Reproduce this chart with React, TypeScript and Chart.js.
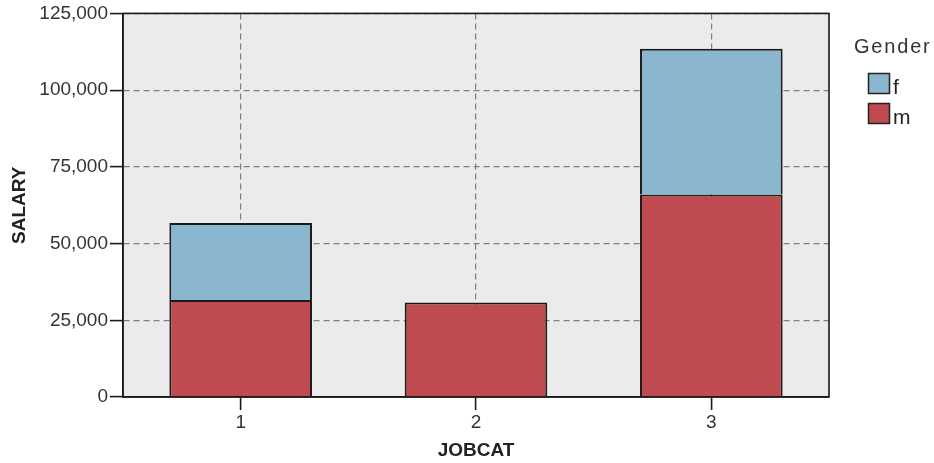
import React, { useEffect, useRef } from "react";
import { Chart, registerables } from "chart.js";

Chart.register(...registerables);

const categories = ["1", "2", "3"];
const maleSalary = [31600, 30800, 66000];
const femaleSalary = [25100, null, 47500];
const yTicks = [0, 25000, 50000, 75000, 100000, 125000];
const legendTitle = "Gender";

const FONT = "'Liberation Sans', Arial, sans-serif";
const RED = "#BF4A4F";
const BLUE = "#8AB7CF";
const GRID = "#7f7f7f";

const framePlugin = {
  id: "frame",
  beforeDraw(chart: any) {
    const { ctx, chartArea: a } = chart;
    ctx.save();
    ctx.fillStyle = "#EBEBEB";
    ctx.fillRect(a.left, a.top, a.right - a.left, a.bottom - a.top);
    ctx.restore();
  },
  afterDraw(chart: any) {
    const { ctx, chartArea: a } = chart;
    ctx.save();
    ctx.strokeStyle = "#1a1a1a";
    ctx.lineWidth = 1.6;
    ctx.strokeRect(a.left, a.top, a.right - a.left, a.bottom - a.top);
    // legend
    ctx.fillStyle = "#333";
    ctx.font = `20px ${FONT}`;
    (ctx as any).letterSpacing = "1.8px";
    ctx.textBaseline = "middle";
    ctx.textAlign = "left";
    ctx.fillText(legendTitle, 854, 47.5);
    (ctx as any).letterSpacing = "0px";
    const items = [
      { label: chart.data.datasets[1].label, color: chart.data.datasets[1].backgroundColor, y: 73.5, base: 94 },
      { label: chart.data.datasets[0].label, color: chart.data.datasets[0].backgroundColor, y: 103.5, base: 124 },
    ];
    ctx.font = `21px ${FONT}`;
    ctx.textBaseline = "alphabetic";
    for (const it of items) {
      ctx.fillStyle = it.color;
      ctx.fillRect(868.5, it.y, 21, 20);
      ctx.strokeStyle = "#222";
      ctx.lineWidth = 1.5;
      ctx.strokeRect(868.5, it.y, 21, 20);
      ctx.fillStyle = "#222";
      ctx.fillText(it.label, 893, it.base);
    }
    ctx.restore();
  },
};

export default function App() {
  const ref = useRef<HTMLCanvasElement | null>(null);
  useEffect(() => {
    if (!ref.current) return;
    const chart = new Chart(ref.current, {
      type: "bar",
      data: {
        labels: categories,
        datasets: [
          {
            label: "m",
            data: maleSalary,
            backgroundColor: RED,
            borderColor: "#1a1a1a",
            borderWidth: 2,
            barPercentage: 0.606,
            categoryPercentage: 1,
          },
          {
            label: "f",
            data: femaleSalary as any,
            backgroundColor: BLUE,
            borderColor: "#1a1a1a",
            borderWidth: 2,
            barPercentage: 0.606,
            categoryPercentage: 1,
          },
        ],
      },
      options: {
        animation: false,
        responsive: false,
        layout: { padding: { top: 12, right: 105, left: 0, bottom: 0 } },
        plugins: { legend: { display: false }, tooltip: { enabled: false } },
        scales: {
          x: {
            stacked: true,
            afterFit: (s: any) => {
              s.height = 66;
            },
            grid: {
              offset: false,
              color: GRID,
              lineWidth: 1.2,
              tickLength: 13,
              tickColor: "#1a1a1a",
              tickWidth: 1.6,
              tickBorderDash: [],
            },
            border: { display: true, color: "#1a1a1a", width: 1.6, dash: [6, 4] },
            ticks: {
              color: "#333",
              padding: 1,
              font: { family: FONT, size: 19 },
            },
            title: {
              display: true,
              text: "JOBCAT",
              color: "#222",
              font: { family: FONT, size: 19, weight: "bold" },
              padding: { top: 0, bottom: 1 },
            },
          },
          y: {
            stacked: true,
            min: 0,
            max: 125000,
            afterFit: (s: any) => {
              s.width = 123;
            },
            afterBuildTicks: (s: any) => {
              s.ticks = yTicks.map((v) => ({ value: v }));
            },
            grid: {
              color: GRID,
              lineWidth: 1.2,
              tickLength: 13,
              tickColor: "#1a1a1a",
              tickWidth: 1.6,
              tickBorderDash: [],
            },
            border: { display: true, color: "#1a1a1a", width: 1.6, dash: [6, 4] },
            ticks: {
              color: "#333",
              padding: 2,
              font: { family: FONT, size: 19 },
              callback: (v: any) => Number(v).toLocaleString("en-US"),
            },
            title: {
              display: true,
              text: "SALARY",
              color: "#222",
              font: { family: FONT, size: 19, weight: "bold" },
              padding: { top: 8, bottom: 0 },
            },
          },
        },
      },
      plugins: [framePlugin],
    });
    return () => chart.destroy();
  }, []);
  return (
    <canvas
      ref={ref}
      width={934}
      height={463}
      style={{ position: "fixed", left: 0, top: 0, width: 934, height: 463 }}
    />
  );
}
